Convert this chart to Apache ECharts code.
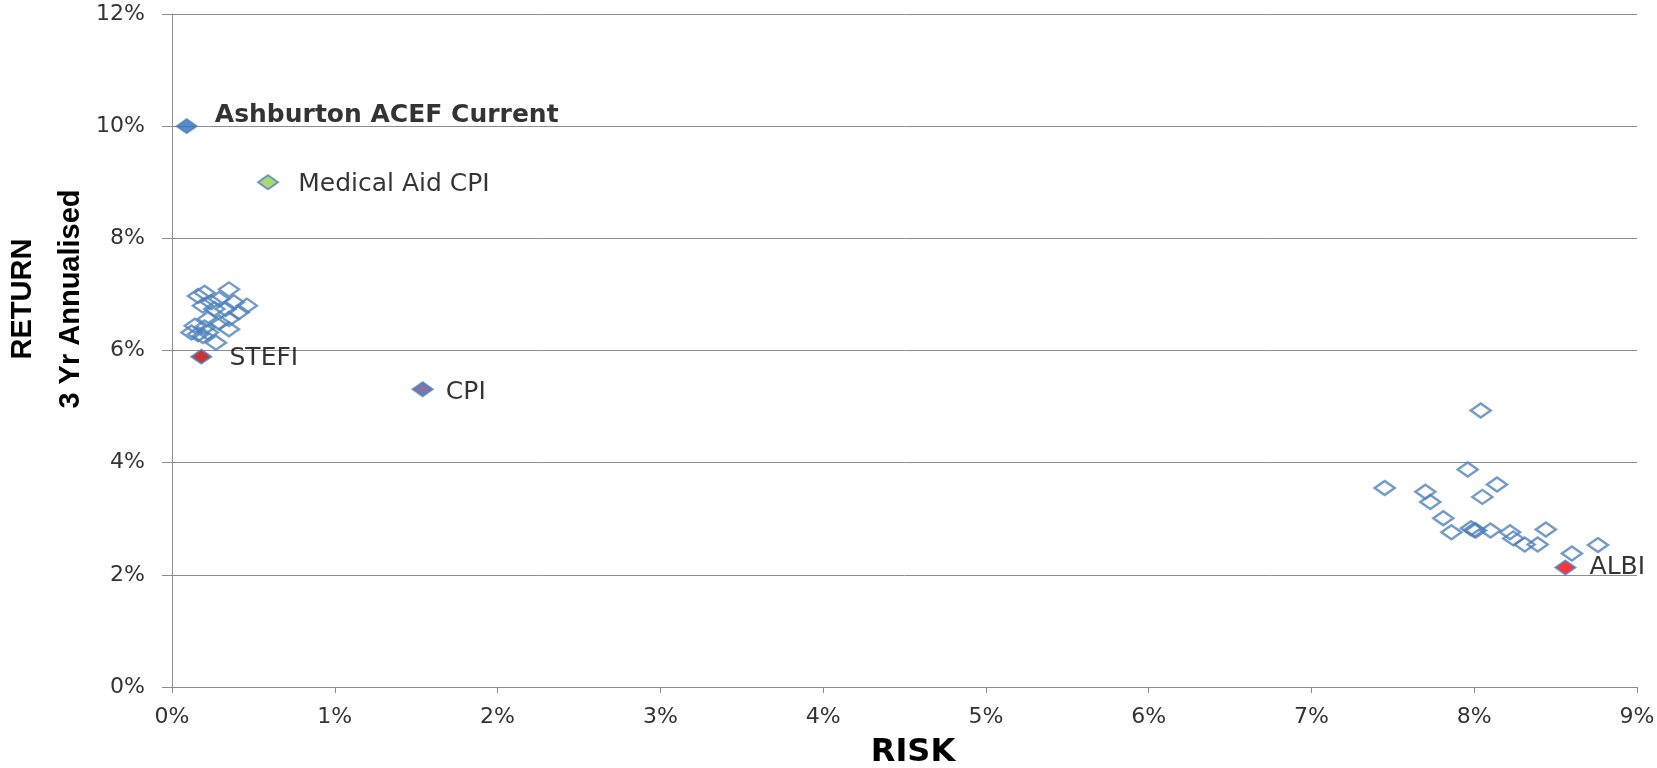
<!DOCTYPE html>
<html>
<head>
<meta charset="utf-8">
<title>Risk vs Return</title>
<script src="https://cdn.jsdelivr.net/npm/echarts@6/dist/echarts.min.js"></script>
<style>
  html, body { margin: 0; padding: 0; background: #fff; }
  #chart { width: 1657px; height: 768px; }
</style>
</head>
<body>
<div id="chart"></div>
<script>
// peer funds, [risk %, 3yr annualised return %]
const peerFundsLow = [
  [0.35, 7.09], [0.20, 7.03], [0.16, 6.97], [0.29, 6.92], [0.24, 6.86],
  [0.19, 6.80], [0.38, 6.86], [0.46, 6.80], [0.33, 6.74], [0.26, 6.74],
  [0.41, 6.68], [0.22, 6.56], [0.35, 6.56], [0.29, 6.50], [0.14, 6.44],
  [0.20, 6.41], [0.35, 6.38], [0.12, 6.32], [0.16, 6.29], [0.22, 6.32],
  [0.27, 6.14], [0.19, 6.26]
]
const peerFundsHigh = [
  [8.04, 4.93], [7.96, 3.88], [7.45, 3.55], [7.70, 3.48], [7.73, 3.30],
  [8.14, 3.61], [8.05, 3.39], [7.81, 3.01], [7.86, 2.76], [7.98, 2.83],
  [8.01, 2.79], [8.10, 2.79], [8.22, 2.76], [8.24, 2.65], [8.31, 2.54],
  [8.39, 2.54], [8.44, 2.81], [8.60, 2.38], [8.76, 2.53], [8.00, 2.80]
]

// highlighted points
const benchNames = ['Ashburton ACEF Current', 'Medical Aid CPI', 'STEFI', 'CPI', 'ALBI']
const benchRisk = [0.09, 0.59, 0.18, 1.54, 8.56]
const benchReturn = [10.0, 9.0, 5.89, 5.31, 2.13]

const xTicks = { min: 0, max: 9, interval: 1 }
const yTicks = { min: 0, max: 12, interval: 2 }

// styles (kept apart from the data)
const benchFill = ['#2c6fc0', '#92d050', '#c00000', '#63508f', '#ff0000']
const benchLabelOffset = [[0, -11], [0, 2], [0, 2], [0, 3], [0, 0]]
const benchLabelDist = [17, 19, 17, 12, 13]
const benchBold = [true, false, false, false, false]

const gray = '#8c8c8c'
const diamond = [20, 14]

const benchData = benchNames.map((name, i) => ({
  name,
  value: [benchRisk[i], benchReturn[i]],
  itemStyle: { color: benchFill[i] },
  label: {
    offset: benchLabelOffset[i],
    distance: benchLabelDist[i],
    color: '#000',
    fontWeight: benchBold[i] ? 'bold' : 'normal'
  }
}))

const myChart = echarts.init(document.getElementById('chart'))
myChart.setOption({
  animation: false,
  grid: { left: 172, right: 20, top: 14, bottom: 81, outerBoundsMode: 'none', containLabel: false },
  xAxis: {
    type: 'value',
    ...xTicks,
    name: 'RISK',
    nameLocation: 'middle',
    nameGap: 49,
    nameMoveOverlap: false,
    nameTextStyle: {
      fontFamily: 'DejaVu Sans', fontWeight: 'bold', fontSize: 32, color: '#000',
      lineHeight: 34, padding: [0, 0, 0, 17]
    },
    axisLine: { show: true, lineStyle: { color: gray, width: 1 } },
    axisTick: { show: true, length: 6, lineStyle: { color: gray } },
    splitLine: { show: false },
    axisLabel: {
      formatter: '{value}%', margin: 19,
      fontFamily: 'DejaVu Sans', fontSize: 22, color: '#333'
    }
  },
  yAxis: {
    type: 'value',
    ...yTicks,
    name: 'RETURN\n3 Yr Annualised',
    nameLocation: 'middle',
    nameRotate: 90,
    nameGap: 77,
    nameMoveOverlap: false,
    nameTextStyle: {
      fontFamily: 'Liberation Sans', fontWeight: 'bold', fontSize: 29, color: '#000',
      lineHeight: 48, padding: [0, 0, 0, 103]
    },
    axisLine: { show: true, lineStyle: { color: gray, width: 1 } },
    axisTick: { show: true, length: 10, lineStyle: { color: gray } },
    splitLine: { show: true, lineStyle: { color: gray, width: 1 } },
    axisLabel: {
      formatter: '{value}%', margin: 27,
      fontFamily: 'DejaVu Sans', fontSize: 22, color: '#333'
    }
  },
  series: [
    {
      type: 'scatter',
      symbol: 'diamond',
      symbolSize: diamond,
      itemStyle: { color: 'rgba(255,255,255,0)', borderColor: '#4f81bd', borderWidth: 2.5 },
      data: peerFundsLow.concat(peerFundsHigh),
      z: 2
    },
    {
      type: 'scatter',
      symbol: 'diamond',
      symbolSize: diamond,
      itemStyle: { borderColor: '#4f81bd', borderWidth: 2 },
      label: {
        show: true,
        position: 'right',
        formatter: '{b}',
        fontFamily: 'DejaVu Sans',
        fontSize: 25,
        color: '#000'
      },
      data: benchData,
      z: 3
    }
  ]
})
</script>
</body>
</html>
